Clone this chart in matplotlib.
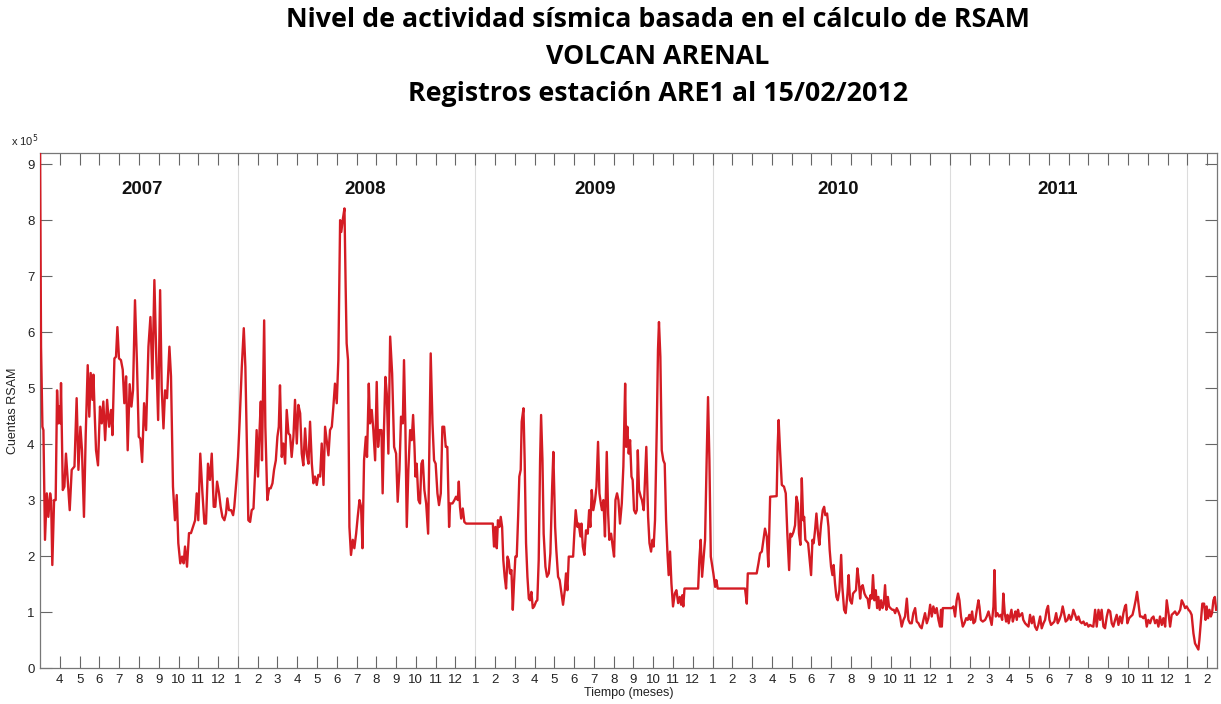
import matplotlib
matplotlib.use("Agg")
import matplotlib.pyplot as plt
import numpy as np

# RSAM counts (x 10^5).
# x = months since 1 Jan 2007 (2.0 = 1 Mar 2007, 61.5 = 15 Feb 2012)
seg_2007 = [
    (2.00, 9.30), (2.05, 5.74), (2.12, 4.31), (2.17, 4.25), (2.25, 2.29), (2.34, 3.12),
    (2.42, 2.70), (2.51, 3.12), (2.56, 3.00), (2.62, 1.84), (2.71, 3.00), (2.79, 3.00),
    (2.86, 4.96), (2.93, 4.37), (2.98, 4.67), (3.03, 4.37), (3.06, 5.09), (3.15, 3.18),
    (3.23, 3.24), (3.31, 3.83), (3.40, 3.36), (3.50, 2.82), (3.60, 3.54), (3.74, 3.60),
    (3.85, 4.82), (3.94, 3.54), (4.04, 4.31), (4.12, 3.89), (4.22, 2.70), (4.31, 4.19),
    (4.41, 5.41), (4.49, 4.49), (4.56, 5.27), (4.65, 4.79), (4.70, 5.24), (4.75, 4.67),
    (4.83, 3.89), (4.93, 3.62), (5.03, 4.67), (5.12, 4.37), (5.20, 4.76), (5.29, 4.07),
    (5.39, 4.79), (5.49, 4.31), (5.59, 4.61), (5.66, 4.16), (5.76, 5.53), (5.84, 5.56),
    (5.91, 6.09), (5.99, 5.53), (6.09, 5.50), (6.18, 5.33), (6.26, 4.73), (6.35, 5.21),
    (6.43, 3.89), (6.53, 5.07), (6.62, 4.67), (6.70, 4.96), (6.80, 6.57), (6.90, 5.44),
    (6.99, 4.13), (7.07, 4.10), (7.16, 3.68), (7.26, 4.73), (7.36, 4.25), (7.48, 5.74),
    (7.58, 6.27), (7.68, 5.17), (7.78, 6.93), (7.88, 5.50), (7.97, 4.43), (8.07, 6.75),
    (8.15, 5.00), (8.24, 4.28), (8.32, 4.96), (8.42, 4.82), (8.54, 5.74), (8.62, 5.21),
    (8.72, 3.24), (8.82, 2.64), (8.91, 3.09), (8.99, 2.23), (9.09, 1.87), (9.18, 1.99),
    (9.26, 1.87), (9.33, 2.17), (9.43, 1.81), (9.53, 2.41), (9.63, 2.41), (9.73, 2.52),
    (9.84, 2.64), (9.92, 3.12), (10.00, 2.64), (10.10, 3.83), (10.21, 3.12), (10.31, 2.58),
    (10.39, 2.58), (10.49, 3.65), (10.59, 3.36), (10.68, 3.83), (10.78, 2.88), (10.86, 2.88),
    (10.95, 3.33), (11.05, 3.12), (11.13, 2.88), (11.22, 2.70), (11.32, 2.64), (11.40, 2.76),
    (11.47, 3.03), (11.55, 2.82), (11.66, 2.82), (11.76, 2.73), (11.82, 2.88), (11.93, 3.36),
]

seg_2008 = [
    (12.01, 3.77), (12.09, 4.40), (12.20, 5.38), (12.30, 6.07), (12.38, 5.38), (12.45, 4.07),
    (12.53, 2.64), (12.62, 2.61), (12.70, 2.82), (12.79, 2.85), (12.87, 3.48), (12.95, 4.25),
    (13.02, 3.42), (13.09, 4.19), (13.16, 4.76), (13.22, 3.71), (13.33, 6.21), (13.39, 4.31),
    (13.49, 3.00), (13.58, 3.21), (13.66, 3.21), (13.75, 3.30), (13.83, 3.54), (13.92, 3.71),
    (14.00, 4.13), (14.07, 4.31), (14.13, 5.05), (14.22, 3.77), (14.30, 4.01), (14.39, 3.65),
    (14.47, 4.61), (14.56, 4.19), (14.64, 4.16), (14.72, 3.77), (14.81, 4.13), (14.89, 4.79),
    (14.98, 4.01), (15.06, 4.70), (15.15, 4.55), (15.23, 3.83), (15.31, 3.62), (15.40, 4.28),
    (15.48, 3.83), (15.57, 3.65), (15.65, 4.40), (15.74, 3.65), (15.82, 3.30), (15.90, 3.42),
    (15.99, 3.27), (16.07, 3.45), (16.16, 3.42), (16.24, 4.01), (16.33, 3.27), (16.41, 4.31),
    (16.49, 4.07), (16.58, 3.80), (16.66, 4.25), (16.75, 4.31), (16.83, 4.67), (16.91, 5.08),
    (17.00, 4.73), (17.08, 5.50), (17.17, 8.00), (17.23, 7.79), (17.30, 8.00), (17.39, 8.21),
    (17.45, 6.81), (17.50, 5.80), (17.57, 5.50), (17.64, 2.52), (17.72, 2.02), (17.81, 2.29),
    (17.89, 2.14), (17.98, 2.40), (18.06, 2.70), (18.15, 3.00), (18.23, 2.88), (18.30, 2.14),
    (18.38, 3.71), (18.47, 4.13), (18.53, 3.77), (18.62, 5.08), (18.68, 4.37), (18.77, 4.61),
    (18.85, 4.25), (18.94, 3.71), (19.02, 5.11), (19.09, 3.95), (19.16, 4.25), (19.26, 4.25),
    (19.32, 3.12), (19.39, 4.31), (19.46, 5.20), (19.53, 4.90), (19.61, 3.83), (19.70, 5.92),
    (19.80, 5.26), (19.90, 3.95), (20.00, 3.83), (20.08, 2.97), (20.17, 3.54), (20.25, 4.49),
    (20.34, 4.37), (20.40, 5.50), (20.47, 4.31), (20.54, 2.52), (20.62, 3.54), (20.71, 4.25),
    (20.79, 4.07), (20.86, 4.52), (20.93, 3.95), (20.98, 3.42), (21.04, 3.65), (21.13, 3.00),
    (21.21, 2.94), (21.28, 3.65), (21.35, 3.71), (21.43, 3.18), (21.52, 2.94), (21.62, 2.40),
    (21.68, 3.89), (21.75, 5.62), (21.84, 4.37), (21.92, 3.71), (22.00, 3.65), (22.09, 3.12),
    (22.17, 2.91), (22.26, 3.12), (22.34, 4.31), (22.43, 4.31), (22.51, 3.95), (22.59, 3.95),
    (22.68, 2.52), (22.73, 2.94), (22.85, 2.94), (22.95, 3.00), (23.03, 3.06), (23.12, 3.00),
    (23.17, 3.33), (23.23, 2.88), (23.29, 2.67), (23.37, 2.85), (23.45, 2.61), (23.54, 2.58),
]

seg_2009 = [
    (24.89, 2.58), (24.95, 2.17), (25.02, 2.52), (25.09, 2.14), (25.15, 2.64), (25.22, 2.52),
    (25.29, 2.70), (25.36, 2.52), (25.42, 1.93), (25.49, 1.63), (25.56, 1.42), (25.63, 1.99),
    (25.69, 1.93), (25.76, 1.69), (25.83, 1.75), (25.90, 1.04), (25.96, 1.51), (26.03, 1.99),
    (26.10, 1.99), (26.17, 2.70), (26.23, 3.42), (26.30, 3.54), (26.35, 4.40), (26.44, 4.64),
    (26.50, 3.71), (26.57, 2.23), (26.64, 1.63), (26.71, 1.24), (26.77, 1.21), (26.84, 1.36),
    (26.91, 1.07), (26.98, 1.10), (27.08, 1.19), (27.14, 1.21), (27.21, 1.93), (27.28, 3.71),
    (27.33, 4.52), (27.40, 3.71), (27.46, 2.40), (27.55, 1.81), (27.63, 1.63), (27.72, 1.69),
    (27.80, 2.05), (27.89, 3.24), (27.95, 3.86), (28.04, 2.52), (28.10, 2.11), (28.19, 1.63),
    (28.27, 1.57), (28.36, 1.33), (28.44, 1.13), (28.53, 1.39), (28.59, 1.69), (28.66, 1.39),
    (28.73, 1.99), (28.83, 1.99), (28.95, 1.99), (29.01, 2.40), (29.08, 2.82), (29.17, 2.52),
    (29.23, 2.58), (29.32, 2.35), (29.37, 2.58), (29.44, 2.17), (29.52, 2.02), (29.60, 2.46),
    (29.69, 2.40), (29.76, 2.82), (29.82, 2.52), (29.89, 3.18), (29.97, 2.82), (30.06, 3.00),
    (30.13, 3.24), (30.21, 4.04), (30.28, 3.12), (30.35, 2.94), (30.41, 2.82), (30.48, 3.00),
    (30.56, 2.35), (30.65, 3.86), (30.72, 2.76), (30.78, 2.29), (30.87, 2.40), (30.95, 2.17),
    (31.02, 1.99), (31.09, 3.00), (31.17, 3.12), (31.24, 3.00), (31.32, 2.58), (31.41, 2.94),
    (31.49, 3.60), (31.58, 5.08), (31.63, 3.95), (31.69, 4.31), (31.76, 3.83), (31.83, 4.07),
    (31.90, 3.42), (31.96, 3.36), (32.03, 2.82), (32.11, 2.76), (32.17, 2.82), (32.22, 3.89),
    (32.28, 3.18), (32.37, 3.06), (32.43, 3.00), (32.52, 2.82), (32.60, 3.54), (32.65, 3.95),
    (32.74, 2.70), (32.81, 2.23), (32.89, 2.08), (32.96, 2.29), (33.02, 2.17), (33.09, 2.64),
    (33.18, 4.31), (33.24, 5.68), (33.29, 6.18), (33.36, 5.56), (33.43, 3.89), (33.51, 3.71),
    (33.58, 3.65), (33.65, 2.64), (33.72, 2.05), (33.78, 1.66), (33.85, 2.08), (33.92, 1.51),
    (34.00, 1.10), (34.09, 1.33), (34.17, 1.39), (34.26, 1.16), (34.34, 1.27), (34.41, 1.13),
    (34.47, 1.30), (34.52, 1.10), (34.58, 1.42), (35.27, 1.42), (35.33, 1.93), (35.40, 2.29),
    (35.47, 1.63), (35.54, 1.93), (35.62, 2.29), (35.70, 3.71), (35.77, 4.84), (35.84, 3.71),
    (35.91, 1.99),
]

seg_2010 = [
    (36.04, 1.69), (36.13, 1.45), (36.19, 1.57), (36.26, 1.42), (37.64, 1.42), (37.73, 1.15),
    (37.78, 1.69), (38.23, 1.69), (38.32, 1.87), (38.40, 2.05), (38.49, 2.08), (38.57, 2.29),
    (38.65, 2.49), (38.74, 2.35), (38.82, 1.81), (38.91, 3.06), (39.24, 3.07), (39.29, 3.95),
    (39.34, 4.43), (39.41, 3.89), (39.50, 3.27), (39.61, 3.24), (39.70, 3.12), (39.78, 2.40),
    (39.87, 1.75), (39.93, 2.40), (40.00, 2.35), (40.09, 2.43), (40.17, 2.55), (40.24, 3.06),
    (40.31, 2.94), (40.37, 2.40), (40.44, 2.20), (40.51, 3.39), (40.58, 2.64), (40.63, 2.70),
    (40.69, 2.29), (40.76, 2.26), (40.83, 2.23), (40.90, 1.96), (40.98, 1.66), (41.05, 2.29),
    (41.11, 2.23), (41.18, 2.46), (41.25, 2.76), (41.33, 2.40), (41.40, 2.20), (41.48, 2.55),
    (41.57, 2.82), (41.64, 2.88), (41.70, 2.73), (41.79, 2.76), (41.86, 2.52), (41.92, 2.11),
    (41.99, 1.81), (42.06, 1.66), (42.12, 1.84), (42.19, 1.51), (42.26, 1.27), (42.33, 1.21),
    (42.41, 1.39), (42.50, 2.02), (42.56, 1.45), (42.65, 1.04), (42.73, 0.98), (42.82, 1.33),
    (42.88, 1.66), (42.95, 1.21), (43.04, 1.15), (43.10, 1.33), (43.17, 1.36), (43.25, 1.39),
    (43.32, 1.78), (43.39, 1.57), (43.46, 1.24), (43.52, 1.45), (43.59, 1.48), (43.68, 1.33),
    (43.76, 1.27), (43.84, 1.24), (43.91, 1.07), (43.98, 1.30), (44.05, 1.24), (44.11, 1.66),
    (44.18, 1.21), (44.25, 1.39), (44.32, 1.07), (44.38, 1.27), (44.45, 1.04), (44.52, 1.21),
    (44.59, 1.07), (44.65, 1.13), (44.72, 1.48), (44.79, 1.04), (44.86, 1.27), (44.92, 1.10),
    (44.99, 1.07), (45.09, 1.04), (45.16, 1.04), (45.23, 0.98), (45.31, 1.07), (45.39, 1.01),
    (45.48, 0.92), (45.56, 0.74), (45.65, 0.86), (45.73, 0.92), (45.82, 1.24), (45.90, 0.86),
    (45.98, 0.80), (46.07, 0.80), (46.15, 0.98), (46.24, 1.07), (46.32, 0.83), (46.41, 0.80),
    (46.49, 0.74), (46.57, 0.71), (46.66, 0.86), (46.74, 0.98), (46.83, 0.80), (46.91, 0.89),
    (47.00, 1.13), (47.08, 0.92), (47.16, 1.10), (47.25, 0.98), (47.33, 1.07), (47.42, 0.86),
    (47.50, 0.74), (47.55, 1.04), (47.59, 0.74), (47.64, 1.07), (48.09, 1.07),
]

seg_2011 = [
    (48.18, 1.10), (48.26, 0.92), (48.34, 1.21), (48.41, 1.33), (48.48, 1.21), (48.56, 0.92),
    (48.65, 0.74), (48.73, 0.80), (48.82, 0.89), (48.90, 0.86), (48.98, 0.95), (49.05, 0.86),
    (49.12, 1.01), (49.19, 0.80), (49.27, 0.83), (49.36, 1.04), (49.44, 1.21), (49.49, 1.10),
    (49.56, 0.86), (49.66, 0.83), (49.78, 0.86), (49.86, 0.92), (49.95, 1.01), (50.03, 0.89),
    (50.11, 0.77), (50.20, 1.10), (50.25, 1.75), (50.32, 0.92), (50.40, 0.98), (50.48, 0.92),
    (50.57, 0.95), (50.64, 0.86), (50.70, 1.33), (50.77, 0.98), (50.84, 0.83), (50.91, 0.95),
    (50.97, 0.80), (51.04, 0.92), (51.11, 1.04), (51.18, 0.83), (51.24, 0.92), (51.31, 1.01),
    (51.38, 0.86), (51.44, 1.04), (51.51, 0.92), (51.58, 0.95), (51.65, 0.98), (51.71, 0.86),
    (51.80, 0.80), (51.88, 0.77), (51.97, 0.74), (52.05, 0.95), (52.14, 0.80), (52.22, 0.92),
    (52.30, 0.74), (52.39, 0.68), (52.47, 0.77), (52.56, 0.92), (52.64, 0.71), (52.73, 0.80),
    (52.81, 0.86), (52.89, 1.04), (52.96, 1.11), (53.03, 0.86), (53.11, 0.77), (53.20, 0.80),
    (53.28, 0.83), (53.37, 0.98), (53.45, 0.80), (53.53, 0.86), (53.62, 0.95), (53.70, 1.10),
    (53.77, 0.98), (53.85, 0.83), (53.94, 0.86), (54.02, 0.95), (54.11, 0.86), (54.17, 0.92),
    (54.24, 1.04), (54.33, 0.95), (54.41, 0.86), (54.50, 0.92), (54.58, 0.83), (54.66, 0.80),
    (54.75, 0.83), (54.83, 0.77), (54.92, 0.80), (55.00, 0.74), (55.08, 0.77), (55.17, 0.75),
    (55.25, 0.74), (55.34, 1.04), (55.42, 0.74), (55.51, 1.04), (55.59, 0.86), (55.67, 1.04),
    (55.76, 0.74), (55.84, 0.71), (55.93, 0.92), (56.01, 1.04), (56.10, 1.01), (56.18, 0.80),
    (56.26, 0.74), (56.35, 0.86), (56.43, 0.95), (56.52, 0.77), (56.60, 0.92), (56.69, 0.80),
    (56.77, 0.98), (56.85, 1.10), (56.90, 1.13), (56.97, 0.80), (57.06, 0.89), (57.14, 0.92),
    (57.23, 0.95), (57.31, 1.07), (57.39, 1.21), (57.46, 1.36), (57.53, 1.15), (57.61, 0.92),
    (57.70, 0.92), (57.78, 0.89), (57.87, 0.95), (57.95, 0.74), (58.03, 0.86), (58.12, 0.80),
    (58.20, 0.89), (58.29, 0.92), (58.37, 0.80), (58.46, 0.86), (58.54, 0.74), (58.62, 0.92),
    (58.71, 0.77), (58.79, 0.89), (58.88, 0.74), (58.96, 1.21), (59.05, 0.98), (59.13, 0.74),
    (59.21, 0.95), (59.30, 0.98), (59.38, 1.01), (59.47, 0.95), (59.55, 0.98), (59.64, 1.04),
    (59.72, 1.21), (59.80, 1.15), (59.89, 1.07), (59.97, 1.10),
]

seg_2012 = [
    (60.06, 1.04), (60.14, 1.01), (60.22, 0.95), (60.31, 0.62), (60.39, 0.44), (60.48, 0.38),
    (60.56, 0.33), (60.61, 0.50), (60.68, 0.80), (60.76, 1.15), (60.85, 1.15), (60.92, 0.86),
    (60.98, 1.10), (61.05, 0.89), (61.12, 1.04), (61.19, 0.92), (61.25, 0.98), (61.32, 1.21),
    (61.39, 1.27), (61.46, 1.04),
]

year_labels = ["2007", "2008", "2009", "2010", "2011"]
year_label_pos = [7.16, 18.43, 30.06, 42.34, 53.42]
year_starts = [12, 24, 36, 48, 60]

title_lines = [
    "Nivel de actividad sísmica basada en el cálculo de RSAM",
    "VOLCAN ARENAL",
    "Registros estación ARE1 al 15/02/2012",
]

points = seg_2007 + seg_2008 + seg_2009 + seg_2010 + seg_2011 + seg_2012
months = np.array([p[0] for p in points])
rsam = np.array([p[1] for p in points])

plt.rcParams['font.family'] = ['Liberation Sans', 'DejaVu Sans']

fig = plt.figure(figsize=(12.21, 7.04), dpi=100)
ax = fig.add_axes([0.0328, 0.0511, 0.9639, 0.7316])

# light year separators
for xs in year_starts:
    ax.axvline(xs, color='#dcdcdc', lw=0.8, zorder=1)

ax.plot(months, rsam, color='#d41c24', lw=1.7, zorder=3)

for lab, xp in zip(year_labels, year_label_pos):
    ax.text(xp, 8.54, lab, ha='center', va='center', fontsize=13.5,
            fontweight='bold', color='#111111')

ax.set_xlim(2.0, 61.5)
ax.set_ylim(0, 9.2)

tick_pos = np.arange(3, 62)
ax.set_xticks(tick_pos)
ax.set_xticklabels([str(int(p) % 12 + 1) for p in tick_pos])
ax.set_yticks(np.arange(0, 10))
ax.set_yticklabels([str(i) for i in range(10)])

ax.tick_params(direction='in', length=8.5, width=0.8, color='#666666',
               labelsize=9.5, labelcolor='#222222', top=True, right=True, pad=4)
for sp in ax.spines.values():
    sp.set_color('#777777')
    sp.set_linewidth(0.9)

ax.set_xlabel("Tiempo (meses)", fontsize=9, color='#222222', labelpad=1)
ax.set_ylabel("Cuentas RSAM", fontsize=9, color='#222222', labelpad=6)
fig.text(0.009, 0.793, r"x 10$^5$", fontsize=8, color='#222222')

ty = [0.972, 0.919, 0.867]
for line, y in zip(title_lines, ty):
    fig.text(0.539, y, line, ha='center', va='center', fontsize=19.3,
             fontweight='bold', family=['Open Sans', 'DejaVu Sans'], color='black')

fig.savefig("out.png", dpi=100, facecolor='white')
